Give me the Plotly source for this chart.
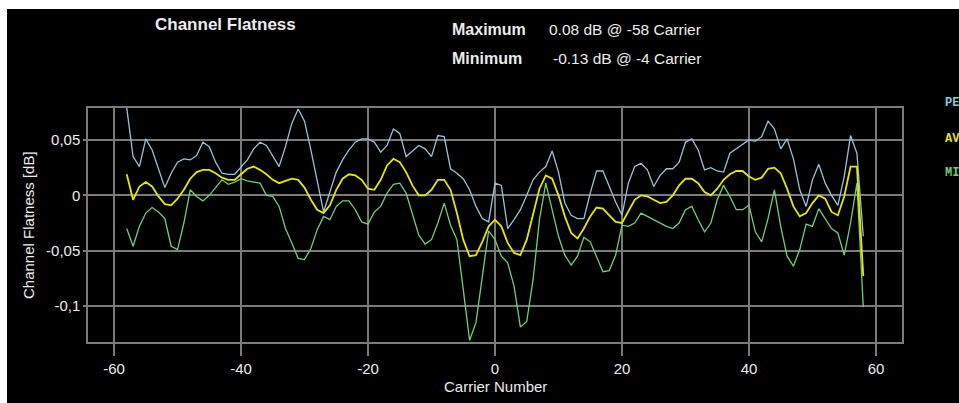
import plotly.graph_objects as go

# carrier index -58 .. 58
carriers = list(range(-58, 59))

peak = [0.079, 0.035, 0.026, 0.051, 0.041, 0.023, 0.007, 0.020, 0.030, 0.033,
        0.032, 0.036, 0.048, 0.044, 0.030, 0.020, 0.019, 0.019, 0.026, 0.032,
        0.042, 0.048, 0.045, 0.036, 0.026, 0.044, 0.065, 0.078, 0.067, 0.041,
        0.014, -0.015, 0.003, 0.021, 0.032, 0.041, 0.048, 0.051, 0.051, 0.048,
        0.039, 0.045, 0.060, 0.056, 0.035, 0.040, 0.045, 0.042, 0.035, 0.054,
        0.053, 0.024, 0.020, 0.015, 0.005, -0.010, -0.021, -0.024, 0.011, 0.009,
        -0.030, -0.022, -0.013, 0.000, 0.014, 0.021, 0.026, 0.040, 0.021, -0.007,
        -0.018, -0.021, -0.021, 0.002, 0.022, 0.022, 0.008, -0.006, -0.018, 0.011,
        0.026, 0.029, 0.023, 0.008, 0.018, 0.024, 0.024, 0.030, 0.048, 0.051,
        0.041, 0.023, 0.025, 0.022, 0.021, 0.038, 0.042, 0.046, 0.050, 0.049,
        0.053, 0.067, 0.060, 0.042, 0.051, 0.033, 0.005, -0.010, 0.014, 0.028,
        0.011, 0.000, -0.009, 0.017, 0.054, 0.038, -0.037]

average = [0.019, -0.004, 0.008, 0.012, 0.008, -0.001, -0.008, -0.009, -0.003, 0.005,
           0.015, 0.021, 0.023, 0.023, 0.020, 0.016, 0.014, 0.014, 0.019, 0.024,
           0.026, 0.023, 0.019, 0.014, 0.011, 0.013, 0.015, 0.014, 0.007, -0.004,
           -0.013, -0.016, -0.009, 0.005, 0.015, 0.019, 0.018, 0.014, 0.006, 0.005,
           0.014, 0.027, 0.033, 0.030, 0.021, 0.009, 0.000, 0.000, 0.005, 0.014,
           0.014, 0.005, -0.016, -0.040, -0.055, -0.054, -0.042, -0.028, -0.022, -0.028,
           -0.043, -0.052, -0.054, -0.040, -0.016, 0.006, 0.018, 0.015, 0.000, -0.019,
           -0.034, -0.039, -0.030, -0.019, -0.011, -0.012, -0.018, -0.024, -0.025, -0.015,
           -0.004, 0.000, -0.001, -0.004, -0.007, -0.006, 0.000, 0.009, 0.015, 0.015,
           0.011, 0.003, 0.000, 0.006, 0.014, 0.019, 0.022, 0.022, 0.017, 0.014,
           0.016, 0.024, 0.025, 0.020, 0.006, -0.010, -0.019, -0.016, -0.007, 0.000,
           -0.003, -0.015, -0.018, -0.001, 0.026, 0.026, -0.073]

minimum = [-0.030, -0.046, -0.028, -0.016, -0.011, -0.015, -0.021, -0.046, -0.049, -0.025,
           0.005, -0.001, -0.005, 0.000, 0.007, 0.014, 0.010, 0.012, 0.015, 0.013,
           0.012, 0.011, 0.000, -0.001, -0.010, -0.030, -0.043, -0.057, -0.058, -0.048,
           -0.031, -0.019, -0.022, -0.010, -0.005, -0.005, -0.013, -0.024, -0.026, -0.015,
           -0.010, 0.002, 0.010, 0.011, 0.002, -0.016, -0.036, -0.044, -0.040, -0.025,
           -0.007, -0.027, -0.040, -0.085, -0.131, -0.115, -0.075, -0.032, -0.040, -0.055,
           -0.061, -0.082, -0.119, -0.114, -0.076, -0.022, 0.011, -0.013, -0.037, -0.054,
           -0.063, -0.055, -0.038, -0.042, -0.055, -0.069, -0.068, -0.054, -0.027, -0.028,
           -0.025, -0.016, -0.019, -0.022, -0.025, -0.028, -0.030, -0.025, -0.013, -0.010,
           -0.022, -0.033, -0.025, -0.004, 0.009, -0.001, -0.013, -0.013, -0.009, -0.033,
           -0.042, -0.021, 0.005, -0.028, -0.055, -0.064, -0.049, -0.026, -0.028, -0.012,
           -0.021, -0.030, -0.034, -0.054, -0.025, 0.011, -0.101]

x_ticks = [-60, -40, -20, 0, 20, 40, 60]
x_ticktext = ["-60", "-40", "-20", "0", "20", "40", "60"]
y_ticks = [0.05, 0, -0.05, -0.1]
y_ticktext = ["0,05", "0", "-0,05", "-0,1"]

BLUE = "#93c4d8"
YELLOW = "#e6e600"
GREEN = "#74cc74"
GRID = "#7a7a7a"
TXT = "#ececec"
FONT = "Liberation Sans"

# plot area in pixels
L, R, T, B = 88, 902, 108, 342
W, H = 959, 403


def px_x(px):
    return (px - L) / (R - L)


def px_y(py):
    return (B - py) / (B - T)


fig = go.Figure()
fig.add_trace(go.Scatter(x=carriers, y=minimum, mode="lines", name="MINIMUM",
                         line=dict(color=GREEN, width=1.3)))
fig.add_trace(go.Scatter(x=carriers, y=peak, mode="lines", name="PEAK",
                         line=dict(color=BLUE, width=1.3)))
fig.add_trace(go.Scatter(x=carriers, y=average, mode="lines", name="AVERAGE",
                         line=dict(color=YELLOW, width=1.8)))

# white border strips (top and left) of the screenshot
fig.add_shape(type="rect", xref="paper", yref="paper", layer="below",
              x0=px_x(-2), x1=px_x(W + 2), y0=px_y(9), y1=px_y(-2),
              fillcolor="white", line_width=0)
fig.add_shape(type="rect", xref="paper", yref="paper", layer="below",
              x0=px_x(-2), x1=px_x(7), y0=px_y(H + 2), y1=px_y(-2),
              fillcolor="white", line_width=0)

ann = []
ann.append(dict(text="<b>Channel Flatness</b>", x=px_x(153), y=px_y(25),
                xanchor="left", yanchor="middle", font=dict(size=17, color=TXT)))
ann.append(dict(text="<b>Maximum</b>", x=px_x(450), y=px_y(29),
                xanchor="left", yanchor="middle", font=dict(size=16, color=TXT)))
ann.append(dict(text="0.08 dB @ -58 Carrier", x=px_x(547), y=px_y(29),
                xanchor="left", yanchor="middle", font=dict(size=15.5, color=TXT)))
ann.append(dict(text="<b>Minimum</b>", x=px_x(450), y=px_y(58),
                xanchor="left", yanchor="middle", font=dict(size=16, color=TXT)))
ann.append(dict(text="-0.13 dB @ -4 Carrier", x=px_x(551), y=px_y(58),
                xanchor="left", yanchor="middle", font=dict(size=15.5, color=TXT)))
ann.append(dict(text="Channel Flatness [dB]", x=px_x(28), y=px_y(225), textangle=-90,
                xanchor="center", yanchor="middle", font=dict(size=15, color=TXT)))
ann.append(dict(text="Carrier Number", x=px_x(495), y=px_y(386),
                xanchor="center", yanchor="middle", font=dict(size=15, color=TXT)))
# legend labels, cut by the right edge as in the original
for name, col, py in [("PEAK", BLUE, 103), ("AVERAGE", YELLOW, 139), ("MINIMUM", GREEN, 173)]:
    ann.append(dict(text="<b>" + name + "</b>", x=px_x(943), y=px_y(py),
                    xanchor="left", yanchor="middle",
                    font=dict(size=12, color=col, family="Liberation Mono")))
for a in ann:
    a.update(xref="paper", yref="paper", showarrow=False)

fig.update_layout(
    width=W, height=H,
    margin=dict(l=L, r=W - R, t=T, b=H - B, pad=0),
    paper_bgcolor="black", plot_bgcolor="black",
    font=dict(family=FONT, size=15, color=TXT),
    showlegend=False,
    annotations=ann,
)
fig.update_xaxes(range=[-64.1, 64.1], tickvals=x_ticks, ticktext=x_ticktext,
                 showgrid=True, gridcolor=GRID, gridwidth=1.5, zeroline=False,
                 showline=True, mirror=True, linecolor=GRID, linewidth=1.5,
                 ticks="outside", ticklen=12, tickcolor=GRID, tickwidth=1.5)
fig.update_yaxes(range=[-0.1325, 0.0789], tickvals=y_ticks, ticktext=y_ticktext,
                 showgrid=True, gridcolor=GRID, gridwidth=1.5, zeroline=False,
                 showline=True, mirror=True, linecolor=GRID, linewidth=1.5,
                 ticks="outside", ticklen=3, tickcolor=GRID, tickwidth=1.5)

# figure fills the whole window, no page margin, no modebar
fig.write_html("out.html", config={"displayModeBar": False},
               post_script="document.body.style.margin='0';document.body.style.overflow='hidden';")
